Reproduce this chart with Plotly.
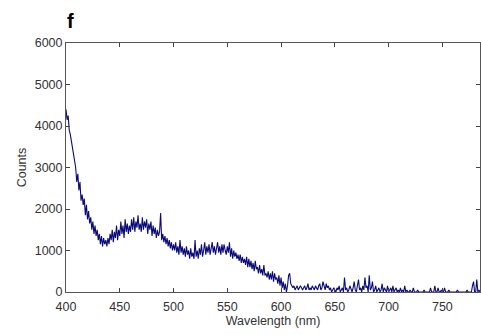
import plotly.graph_objects as go

wl_start = 400
counts = [
    4400, 4150, 4250, 3900, 3800, 3650, 3500, 3300, 3150, 3000,
    2650, 2850, 2450, 2650, 2200, 2350, 2100, 2250, 1850, 2100,
    1750, 1950, 1650, 1800, 1500, 1700, 1400, 1600, 1350, 1500,
    1250, 1400, 1150, 1350, 1100, 1300, 1150, 1250, 1100, 1300,
    1150, 1400, 1250, 1500, 1200, 1450, 1300, 1600, 1250, 1500,
    1350, 1700, 1400, 1600, 1300, 1750, 1450, 1650, 1400, 1600,
    1450, 1750, 1500, 1800, 1450, 1700, 1550, 1850, 1500, 1650,
    1450, 1800, 1500, 1700, 1550, 1750, 1400, 1650, 1500, 1700,
    1350, 1600, 1400, 1550, 1300, 1500, 1350, 1450, 1900, 1250,
    1400, 1200, 1350, 1150, 1300, 1100, 1250, 1050, 1200, 1000,
    1150, 1000, 1200, 950, 1100, 900, 1250, 950, 1100, 900,
    1050, 850, 1100, 900, 1000, 800, 1050, 850, 950, 800,
    1250, 850, 1000, 800, 1050, 900, 1150, 850, 1000, 1200,
    900, 1100, 950, 1150, 900, 1050, 1200, 950, 1100, 900,
    1050, 1200, 950, 1100, 900, 1150, 950, 1150, 1000, 900,
    1100, 950, 1200, 850, 1050, 800, 1000, 850, 950, 800,
    900, 750, 900, 700, 850, 700, 800, 650, 850, 600,
    800, 600, 750, 550, 700, 500, 750, 550, 600, 450,
    650, 450, 550, 400, 650, 400, 450, 350, 500, 300,
    450, 300, 500, 250, 450, 300, 350, 200, 400, 150,
    350, 100, 250, 50, 200, 0, 150, 400, 450, 200,
    150, 100, 150, 50, 100, 150, 50, 100, 150, 100,
    50, 100, 150, 50, 100, 200, 50, 100, 50, 150,
    100, 50, 150, 100, 50, 150, 200, 50, 100, 250,
    100, 50, 200, 100, 150, 50, 100, 0, 50, 100,
    50, 0, 100, 50, 150, 0, 50, 100, 0, 350,
    50, 100, 0, 50, 150, 50, 0, 100, 250, 50,
    0, 150, 300, 50, 100, 0, 150, 50, 350, 100,
    150, 0, 400, 50, 100, 250, 0, 50, 150, 0,
    50, 100, 0, 50, 200, 0, 100, 50, 0, 150,
    0, 50, 100, 0, 150, 0, 50, 100, 0, 50,
    0, 100, 0, 50, 0, 150, 0, 50, 0, 0,
    50, 0, 0, 100, 0, 0, 0, 50, 0, 0,
    0, 0, 0, 50, 0, 0, 0, 0, 0, 100,
    0, 0, 0, 150, 0, 0, 100, 0, 0, 50,
    0, 0, 100, 0, 0, 0, 50, 0, 0, 0,
    0, 0, 0, 0, 50, 0, 0, 0, 0, 0,
    0, 0, 0, 50, 0, 0, 0, 0, 150, 250,
    0, 0, 300, 0, 50, 0,
]
wavelength = [wl_start + i for i in range(len(counts))]

x_ticks = [400, 450, 500, 550, 600, 650, 700, 750]
y_ticks = [0, 1000, 2000, 3000, 4000, 5000, 6000]

FONT = "Liberation Sans, Arial"
fig = go.Figure()
fig.add_trace(go.Scatter(
    x=wavelength, y=counts, mode="lines",
    line=dict(color="#0a0a7a", width=1.1),
    showlegend=False,
))

axis_common = dict(
    showgrid=False, zeroline=False, showline=True, linecolor="#555555",
    linewidth=1, mirror="ticks", ticks="inside", ticklen=4, tickcolor="#444444",
    tickfont=dict(family=FONT, size=12.5, color="#333333"),
)
fig.update_layout(
    width=481, height=335,
    margin=dict(l=66, r=1, t=43, b=43),
    paper_bgcolor="white", plot_bgcolor="white",
    xaxis=dict(range=[400, 785], tickvals=x_ticks, ticklabelstandoff=3,
               title=dict(text="Wavelength (nm)", standoff=0,
                          font=dict(family=FONT, size=12.5, color="#333333")),
               **axis_common),
    yaxis=dict(range=[0, 6000], tickvals=y_ticks,
               title=dict(text="Counts", standoff=5,
                          font=dict(family=FONT, size=12.5, color="#333333")),
               **axis_common),
    annotations=[dict(text="<b>f</b>", x=(70 - 66) / 414, y=1 + (43 - 21) / 249,
                      xref="paper", yref="paper",
                      xanchor="center", yanchor="middle", showarrow=False,
                      font=dict(family=FONT, size=20, color="black"))],
)
fig.write_html("out.html")
